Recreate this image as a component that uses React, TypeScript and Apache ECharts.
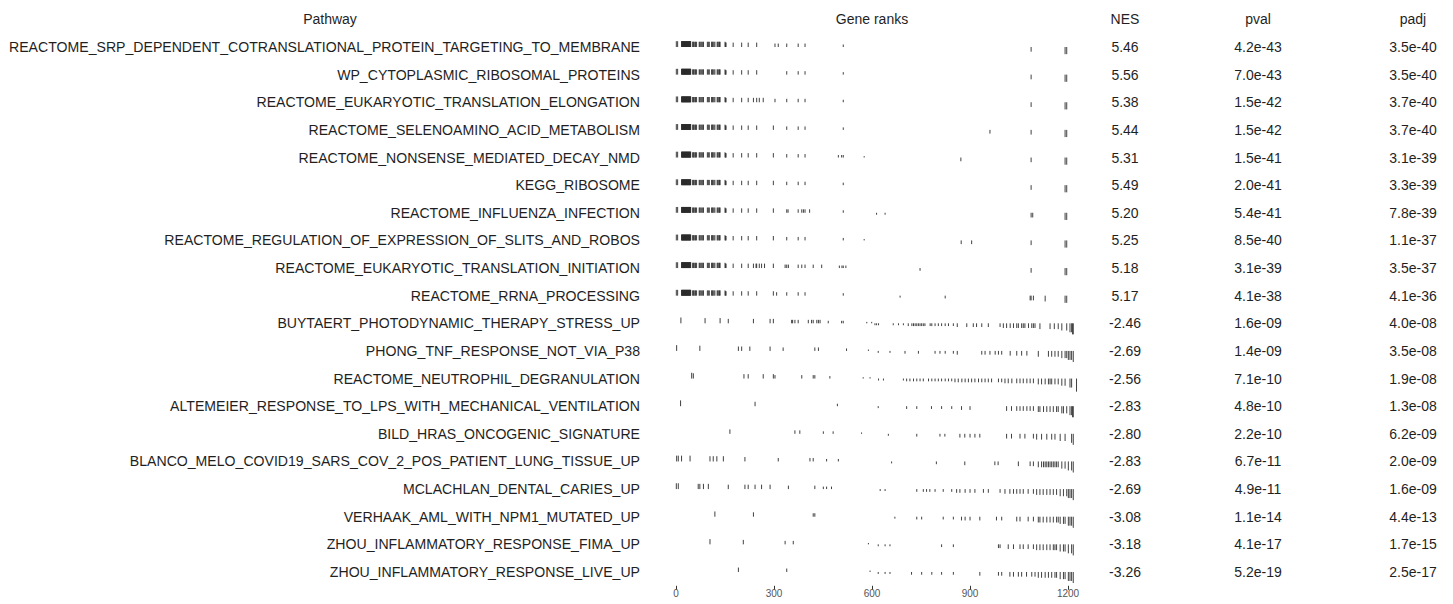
import React, { useEffect, useRef } from "react";
import * as echarts from "echarts";

// ---- table content -------------------------------------------------------
const pathways = [
  "REACTOME_SRP_DEPENDENT_COTRANSLATIONAL_PROTEIN_TARGETING_TO_MEMBRANE",
  "WP_CYTOPLASMIC_RIBOSOMAL_PROTEINS",
  "REACTOME_EUKARYOTIC_TRANSLATION_ELONGATION",
  "REACTOME_SELENOAMINO_ACID_METABOLISM",
  "REACTOME_NONSENSE_MEDIATED_DECAY_NMD",
  "KEGG_RIBOSOME",
  "REACTOME_INFLUENZA_INFECTION",
  "REACTOME_REGULATION_OF_EXPRESSION_OF_SLITS_AND_ROBOS",
  "REACTOME_EUKARYOTIC_TRANSLATION_INITIATION",
  "REACTOME_RRNA_PROCESSING",
  "BUYTAERT_PHOTODYNAMIC_THERAPY_STRESS_UP",
  "PHONG_TNF_RESPONSE_NOT_VIA_P38",
  "REACTOME_NEUTROPHIL_DEGRANULATION",
  "ALTEMEIER_RESPONSE_TO_LPS_WITH_MECHANICAL_VENTILATION",
  "BILD_HRAS_ONCOGENIC_SIGNATURE",
  "BLANCO_MELO_COVID19_SARS_COV_2_POS_PATIENT_LUNG_TISSUE_UP",
  "MCLACHLAN_DENTAL_CARIES_UP",
  "VERHAAK_AML_WITH_NPM1_MUTATED_UP",
  "ZHOU_INFLAMMATORY_RESPONSE_FIMA_UP",
  "ZHOU_INFLAMMATORY_RESPONSE_LIVE_UP",
];

const nes = [5.46, 5.56, 5.38, 5.44, 5.31, 5.49, 5.2, 5.25, 5.18, 5.17,
  -2.46, -2.69, -2.56, -2.83, -2.8, -2.83, -2.69, -3.08, -3.18, -3.26];

const pval = [4.2e-43, 7.0e-43, 1.5e-42, 1.5e-42, 1.5e-41, 2.0e-41, 5.4e-41, 8.5e-40, 3.1e-39, 4.1e-38,
  1.6e-9, 1.4e-9, 7.1e-10, 4.8e-10, 2.2e-10, 6.7e-11, 4.9e-11, 1.1e-14, 4.1e-17, 5.2e-19];

const padj = [3.5e-40, 3.5e-40, 3.7e-40, 3.7e-40, 3.1e-39, 3.3e-39, 7.8e-39, 1.1e-37, 3.5e-37, 4.1e-36,
  4.0e-8, 3.5e-8, 1.9e-8, 1.3e-8, 6.2e-9, 2.0e-9, 1.6e-9, 4.4e-13, 1.7e-15, 2.5e-17];

// ---- gene positions in the ranked list -----------------------------------
const totalGenes = 1229;
const rankTicks = [0, 300, 600, 900, 1200];

// ribosomal genes shared by the translation-related sets
const ribosomalCoreRanks = [
  1, 5, 17, 18, 19, 20, 21, 22, 23, 24, 25, 26, 27, 28, 29, 30, 31, 32, 33, 34, 35, 36, 37, 38, 39, 40,
  41, 42, 43, 44, 45, 51, 53, 55, 58, 60, 63, 71, 73, 76, 79, 82, 84, 96, 99, 102, 109, 111, 113, 116,
  119, 126, 128, 131, 133, 135, 150, 152, 153, 175, 201, 221, 247, 339, 374, 395, 512, 1087, 1191, 1196,
];

const geneRanks: number[][] = [
  [...ribosomalCoreRanks, 303, 313],
  [...ribosomalCoreRanks],
  [...ribosomalCoreRanks, 237, 255, 267, 303],
  [...ribosomalCoreRanks, 298, 961],
  [...ribosomalCoreRanks, 298, 497, 507, 576, 872],
  [...ribosomalCoreRanks, 298],
  [...ribosomalCoreRanks, 298, 343, 385, 390, 409, 614, 640, 1092],
  [...ribosomalCoreRanks, 298, 576, 873, 905],
  [...ribosomalCoreRanks, 237, 245, 255, 262, 271, 298, 334, 344, 385, 420, 446, 500, 508, 520, 747],
  [...ribosomalCoreRanks, 298, 308, 686, 824, 1084, 1094, 1130],
  [15, 89, 135, 160, 237, 288, 298, 354, 357, 364, 374, 405, 415, 420, 431, 436, 441, 466, 507, 512,
    584, 599, 609, 614, 620, 665, 681, 696, 711, 722, 727, 732, 737, 742, 747, 752, 757, 762, 778, 783,
    793, 803, 813, 824, 834, 849, 861, 890, 910, 920, 936, 956, 992, 1002, 1012, 1023, 1033, 1043, 1048,
    1058, 1063, 1068, 1079, 1089, 1094, 1099, 1114, 1145, 1158, 1170, 1181, 1196, 1206, 1211, 1214, 1216],
  [2, 73, 191, 201, 226, 288, 328, 425, 436, 522, 589, 619, 655, 701, 742, 793, 808, 824, 849, 861, 936,
    946, 961, 977, 987, 997, 1023, 1043, 1058, 1074, 1109, 1140, 1150, 1160, 1170, 1181, 1191, 1196,
    1201, 1206, 1211, 1216],
  [48, 53, 208, 221, 267, 298, 303, 385, 420, 425, 471, 573, 594, 620, 635, 696, 706, 716, 727, 737, 747,
    757, 773, 783, 793, 803, 813, 824, 834, 844, 854, 864, 875, 885, 895, 905, 915, 926, 936, 946, 956,
    966, 987, 997, 1007, 1017, 1028, 1043, 1053, 1063, 1074, 1084, 1094, 1109, 1119, 1130, 1140, 1145,
    1150, 1160, 1170, 1181, 1191, 1206, 1211, 1226],
  [14, 242, 494, 619, 706, 737, 782, 813, 844, 874, 900, 1012, 1027, 1043, 1053, 1063, 1074, 1084, 1094,
    1109, 1114, 1125, 1135, 1145, 1155, 1165, 1170, 1181, 1186, 1196, 1206, 1211, 1214, 1216],
  [165, 364, 379, 451, 481, 568, 650, 737, 808, 823, 869, 884, 900, 915, 930, 1012, 1027, 1053, 1068,
    1094, 1104, 1119, 1135, 1150, 1160, 1176, 1191, 1211, 1216],
  [2, 7, 17, 43, 104, 114, 125, 145, 211, 313, 410, 420, 461, 497, 660, 797, 884, 976, 986, 1048, 1084,
    1094, 1109, 1119, 1125, 1130, 1135, 1140, 1145, 1150, 1155, 1160, 1165, 1170, 1181, 1191, 1201,
    1211, 1216],
  [1, 7, 68, 73, 84, 99, 160, 211, 221, 242, 262, 288, 344, 425, 451, 461, 476, 625, 640, 737, 757, 767,
    777, 793, 818, 844, 859, 869, 885, 900, 915, 941, 956, 992, 1007, 1022, 1033, 1043, 1053, 1063, 1078,
    1094, 1104, 1114, 1124, 1135, 1145, 1155, 1165, 1176, 1186, 1196, 1201, 1206, 1211, 1216],
  [119, 237, 420, 425, 670, 737, 752, 818, 849, 874, 885, 900, 930, 981, 997, 1043, 1053, 1078, 1094,
    1109, 1114, 1124, 1135, 1145, 1155, 1165, 1170, 1176, 1186, 1191, 1201, 1206, 1211, 1216],
  [104, 206, 334, 359, 589, 619, 640, 655, 813, 849, 987, 992, 1017, 1033, 1053, 1063, 1078, 1094, 1104,
    1114, 1124, 1135, 1145, 1155, 1160, 1165, 1176, 1186, 1191, 1201, 1211, 1216],
  [191, 339, 594, 619, 640, 655, 721, 752, 783, 813, 849, 930, 987, 997, 1022, 1033, 1048, 1058, 1073,
    1089, 1099, 1109, 1119, 1130, 1140, 1150, 1160, 1165, 1176, 1186, 1191, 1201, 1206, 1211, 1216],
];

// scaled ranking statistic: [last rank of the band, value]
const rankStatLevels: [number, number][] = [
  [50, 0.42], [150, 0.38], [300, 0.32], [450, 0.25], [560, 0.18], [605, 0.1],
  [700, -0.14], [850, -0.2], [1000, -0.27], [1100, -0.34], [1170, -0.42],
  [1200, -0.52], [1212, -0.65], [1220, -0.8], [1229, -0.95],
];

// ---- layout ----------------------------------------------------------------
const FONT = "'Liberation Sans', Arial, sans-serif";
const ROW_H = 27.63;
const TOP = 47 - ROW_H / 2;
const HEIGHT = ROW_H * pathways.length;
const PANEL_LEFT = 676;
const PANEL_WIDTH = 401.5;
const TEXT_COLOR = "#1f1f1f";
const columns = [
  { header: "NES", center: 1125, values: nes.map((v) => v.toFixed(2)) },
  { header: "pval", center: 1258, values: pval.map((v) => fmtExp(v)) },
  { header: "padj", center: 1413, values: padj.map((v) => fmtExp(v)) },
];

function fmtExp(v: number): string {
  const [m, e] = v.toExponential(1).split("e");
  const sign = e[0] === "-" ? "-" : "+";
  return `${m}e${sign}${e.slice(1).padStart(2, "0")}`;
}

function statAt(rank: number): number {
  for (const [upTo, s] of rankStatLevels) if (rank <= upTo) return s;
  return rankStatLevels[rankStatLevels.length - 1][1];
}

export default function App() {
  const ref = useRef<HTMLDivElement>(null);

  useEffect(() => {
    if (!ref.current) return;
    const chart = echarts.init(ref.current, undefined, { renderer: "svg" });

    const segData: number[][] = [];
    geneRanks.forEach((ranks, row) => {
      ranks.forEach((r) => segData.push([r, row, statAt(r)]));
    });

    const grids: any[] = [
      { left: PANEL_LEFT, top: TOP, width: PANEL_WIDTH, height: HEIGHT },
    ];
    const xAxes: any[] = [
      {
        gridIndex: 0,
        type: "value",
        min: 0,
        max: totalGenes,
        axisLine: { show: false },
        splitLine: { show: false },
        axisTick: { show: true, length: 4, customValues: rankTicks, lineStyle: { color: "#333", width: 1 } },
        axisLabel: {
          customValues: rankTicks,
          formatter: (v: number) => String(v),
          fontSize: 10,
          color: "#555",
          margin: 3,
          fontFamily: FONT,
        },
      },
    ];
    const yAxes: any[] = [
      {
        gridIndex: 0,
        type: "category",
        data: pathways,
        inverse: true,
        axisLine: { show: false },
        axisTick: { show: false },
        splitLine: { show: false },
        axisLabel: { margin: 36, fontSize: 14.1, color: TEXT_COLOR, fontFamily: FONT },
      },
    ];

    columns.forEach((col, i) => {
      grids.push({ left: col.center, top: TOP, width: 1, height: HEIGHT });
      xAxes.push({ gridIndex: i + 1, type: "value", show: false, min: 0, max: 1 });
      yAxes.push({
        gridIndex: i + 1,
        type: "category",
        data: col.values,
        inverse: true,
        axisLine: { show: false },
        axisTick: { show: false },
        splitLine: { show: false },
        axisLabel: { margin: 0, align: "center", fontSize: 14, color: TEXT_COLOR, fontFamily: FONT },
      });
    });

    const headerY = TOP - ROW_H / 2;
    const headers = [
      { text: "Pathway", x: 330 },
      { text: "Gene ranks", x: 872 },
      ...columns.map((c) => ({ text: c.header, x: c.center })),
    ];

    chart.setOption({
      animation: false,
      backgroundColor: "#ffffff",
      grid: grids,
      xAxis: xAxes,
      yAxis: yAxes,
      graphic: headers.map((h) => ({
        type: "text",
        x: h.x,
        y: headerY,
        style: {
          text: h.text,
          fontSize: 14,
          fontFamily: FONT,
          fill: TEXT_COLOR,
          align: "center",
          verticalAlign: "middle",
        },
      })),
      series: [
        {
          type: "custom",
          xAxisIndex: 0,
          yAxisIndex: 0,
          encode: { x: 0, y: 1 },
          data: segData,
          renderItem: (params: any, api: any) => {
            const c = api.coord([api.value(0), api.value(1)]);
            const band = api.size([0, 1])[1];
            const s = api.value(2) as number;
            return {
              type: "line",
              shape: { x1: c[0], y1: c[1], x2: c[0], y2: c[1] - (s * band) / 2 },
              style: { stroke: "#2a2a2a", lineWidth: 0.9 },
            };
          },
        },
      ],
    });

    return () => chart.dispose();
  }, []);

  return (
    <div
      ref={ref}
      style={{ position: "absolute", left: 0, top: 0, width: 1453, height: 604, background: "#fff" }}
    />
  );
}
